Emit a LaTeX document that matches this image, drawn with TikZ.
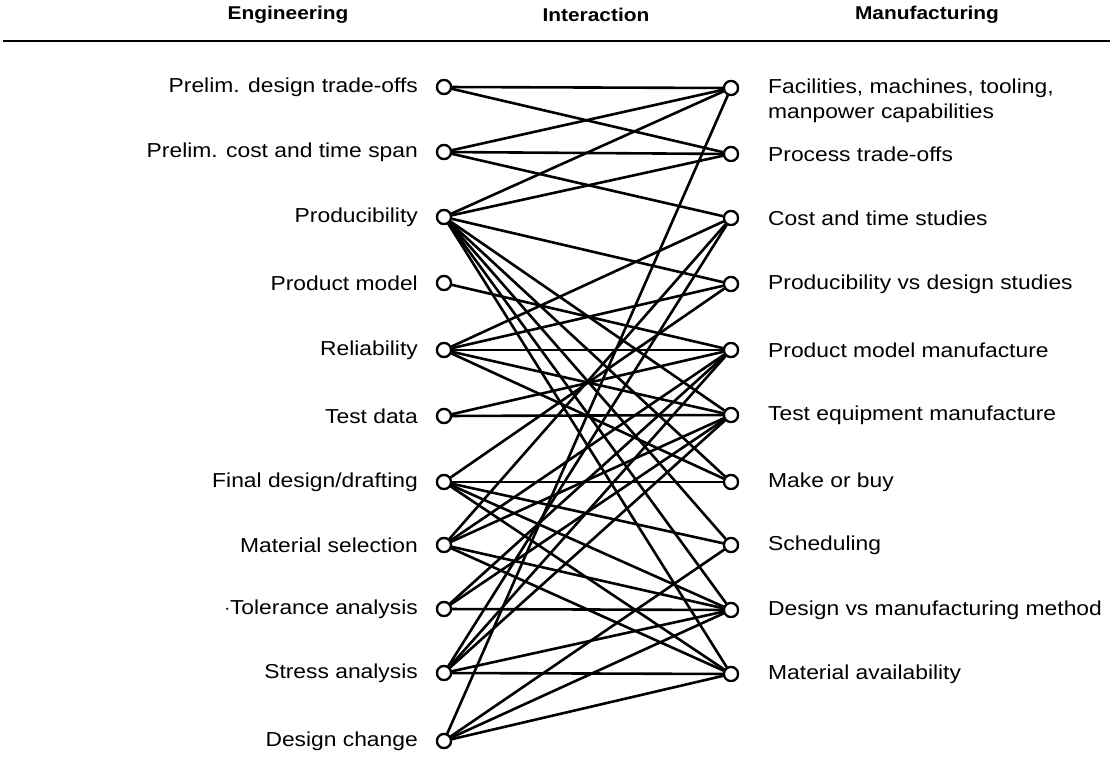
\documentclass[tikz,border=0pt]{standalone}
\usepackage{fontspec}
\setmainfont[FakeStretch=1.13]{Liberation Sans}
\begin{document}
\begin{tikzpicture}[x=1pt,y=-1pt,
  port/.style={circle,draw,line width=2.2pt,fill=white,inner sep=0pt,minimum size=14pt},
  lab/.style={font=\fontsize{20.2}{24}\selectfont,inner sep=0pt},
  head/.style={font=\bfseries\fontsize{18.5}{22}\selectfont,inner sep=0pt},
  link/.style={line width=2.6pt}]
\useasboundingbox (0,0) rectangle (1114,757);
\node[head] (h1) at (288,15) {Engineering};
\node[head] (h2) at (596,15) {Interaction};
\node[head] (h3) at (927,15) {Manufacturing};
\coordinate (ra) at (3,41);
\coordinate (rb) at (1110,41);
\draw[line width=2.6pt] (ra) -- (rb);
% ports
\foreach \i/\y in {1/87,2/152,3/217,4/283,5/350,6/416,7/482,8/545,9/609,10/673,11/741}
  \node[port] (L\i) at (444,\y) {};
\foreach \i/\y in {1/88,2/154,3/218,4/284,5/350,6/415,7/482,8/545,9/610,10/674}
  \node[port] (R\i) at (731,\y) {};
% links
\foreach \a/\b in {1/1,1/2,2/1,2/2,2/3,3/1,3/2,3/4,3/6,3/7,3/8,3/9,3/10,
  4/5,5/3,5/4,5/5,5/6,5/7,6/5,6/6,7/4,7/7,7/8,7/9,7/10,
  8/3,8/5,8/6,8/9,8/10,9/5,9/6,9/9,10/3,10/5,10/6,10/9,10/10,
  11/1,11/8,11/9,11/10}
  \draw[link] (L\a) -- (R\b);
% redraw ports on top
\foreach \i in {1,...,11} \node[port] at (L\i) {};
\foreach \i in {1,...,10} \node[port] at (R\i) {};
% left labels
\node[lab,anchor=east] (tl1) at (418,87) {Prelim. design trade-offs};
\node[lab,anchor=east] (tl2) at (418,152) {Prelim. cost and time span};
\node[lab,anchor=east] (tl3) at (418,217) {Producibility};
\node[lab,anchor=east] (tl4) at (418,283) {Product model};
\node[lab,anchor=east] (tl5) at (418,350) {Reliability};
\node[lab,anchor=east] (tl6) at (418,416) {Test data};
\node[lab,anchor=east] (tl7) at (418,482) {Final design/drafting};
\node[lab,anchor=east] (tl8) at (418,545) {Material selection};
\node[lab,anchor=east] (tl9) at (418,609) {$\cdot$Tolerance analysis};
\node[lab,anchor=east] (tl10) at (418,673) {Stress analysis};
\node[lab,anchor=east] (tl11) at (418,741) {Design change};
% right labels
\node[lab,anchor=west] (tr1) at (768,88) {Facilities, machines, tooling,};
\node[lab,anchor=west] (tr1b) at (768,113) {manpower capabilities};
\node[lab,anchor=west] (tr2) at (768,154) {Process trade-offs};
\node[lab,anchor=west] (tr3) at (768,218) {Cost and time studies};
\node[lab,anchor=west] (tr4) at (768,284) {Producibility vs design studies};
\node[lab,anchor=west] (tr5) at (768,350) {Product model manufacture};
\node[lab,anchor=west] (tr6) at (768,415) {Test equipment manufacture};
\node[lab,anchor=west] (tr7) at (768,482) {Make or buy};
\node[lab,anchor=west] (tr8) at (768,545) {Scheduling};
\node[lab,anchor=west] (tr9) at (768,610) {Design vs manufacturing method};
\node[lab,anchor=west] (tr10) at (768,674) {Material availability};
\end{tikzpicture}
\end{document}
